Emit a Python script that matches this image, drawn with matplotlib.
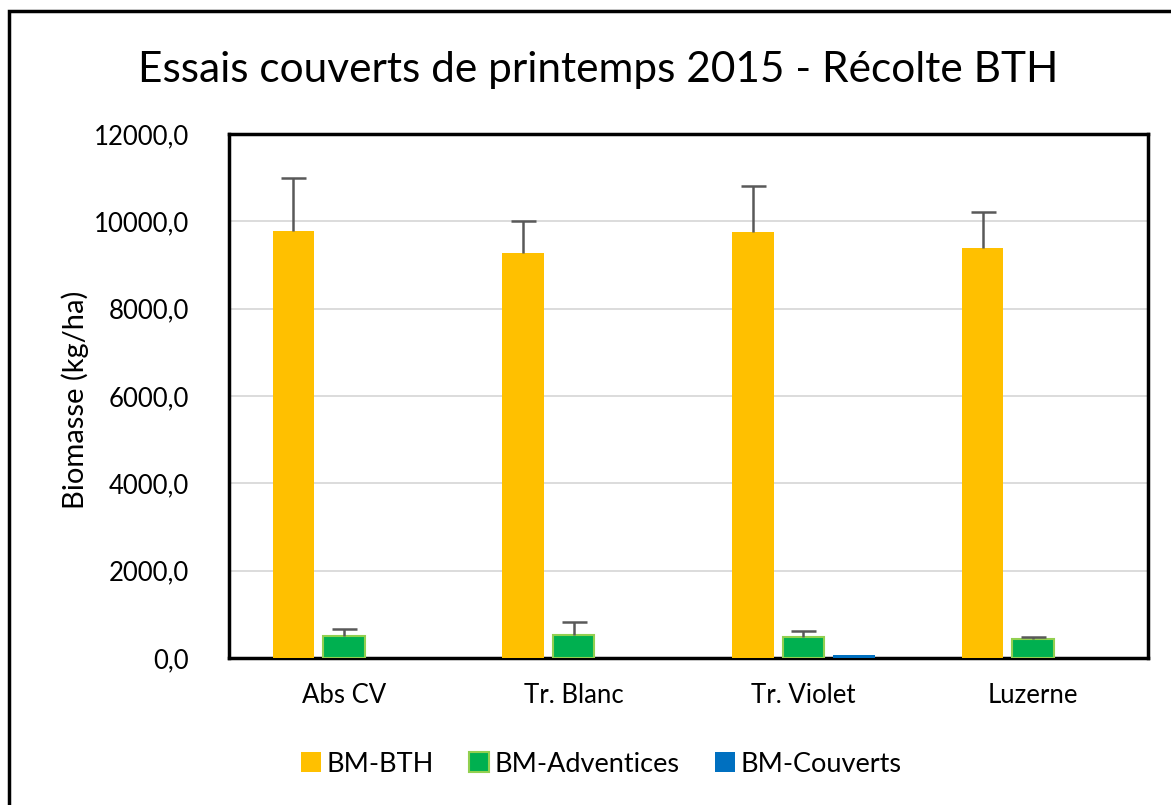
import matplotlib

matplotlib.use("Agg")
import matplotlib.pyplot as plt
import numpy as np
from matplotlib.patches import Rectangle

plt.rcParams["font.family"] = ["Lato", "DejaVu Sans"]

categories = ["Abs CV", "Tr. Blanc", "Tr. Violet", "Luzerne"]
bm_bth = [9770, 9280, 9750, 9400]
bm_bth_err = [1220, 730, 1060, 810]
bm_adventices = [510, 535, 490, 445]
bm_adventices_err = [155, 285, 130, 35]
bm_couverts = [0, 8, 70, 8]
yticks = [0, 2000, 4000, 6000, 8000, 10000, 12000]

W, H = 1171, 805
fig = plt.figure(figsize=(W / 100, H / 100), dpi=100)

# outer chart frame (runs off the right/bottom of the picture)
fig.patches.append(Rectangle((9 / W, -0.05), 1.2, (805 - 11) / H + 0.05,
                             transform=fig.transFigure, fill=False,
                             edgecolor="black", linewidth=2.5, clip_on=False))

ax = fig.add_axes([229 / W, (H - 658) / H, (1148 - 229) / W, (658 - 134) / H])

x = np.arange(len(categories))
step = 0.22
bw = 0.18

ax.bar(x - step, bm_bth, bw, color="#FFC000", label="BM-BTH", zorder=3)
ax.bar(x, bm_adventices, bw, color="#00B050", edgecolor="#92D050", linewidth=1.5,
       label="BM-Adventices", zorder=3)
ax.bar(x + step, bm_couverts, bw, color="#0070C0", label="BM-Couverts", zorder=3)

# plus-only error bars
for xs, ys, es in [(x - step, bm_bth, bm_bth_err), (x, bm_adventices, bm_adventices_err)]:
    _, caps, _ = ax.errorbar(xs, ys, yerr=[np.zeros(len(es)), es], fmt="none",
                             ecolor="#595959", elinewidth=1.8, capsize=9,
                             capthick=1.8, zorder=4)
    caps[0].set_visible(False)

ax.set_xlim(-0.5, len(categories) - 0.5)
ax.set_ylim(0, 12000)
ax.set_yticks(yticks)
ax.set_yticklabels([f"{v:.1f}".replace(".", ",") for v in yticks], fontsize=18.5)
ax.set_xticks(x)
ax.set_xticklabels(categories, fontsize=18.5)
ax.tick_params(axis="y", length=0, pad=29)
ax.tick_params(axis="x", length=0, pad=18)
ax.grid(axis="y", color="#D9D9D9", linewidth=1.3, zorder=0)
ax.set_axisbelow(True)
for s in ax.spines.values():
    s.set_linewidth(2.5)
    s.set_color("black")

fig.text(75 / W, 1 - 400 / H, "Biomasse (kg/ha)", rotation=90, fontsize=21,
         ha="center", va="center")
fig.text(598 / W, 1 - 70 / H, "Essais couverts de printemps 2015 - Récolte BTH",
         fontsize=30.5, ha="center", va="center")

fig.legend(loc="center", bbox_to_anchor=(601 / W, 1 - 764 / H), ncol=3,
           frameon=False, fontsize=19.5, handlelength=0.75, handleheight=0.75,
           handletextpad=0.2, columnspacing=1.3)

fig.savefig("out.png", dpi=100)
